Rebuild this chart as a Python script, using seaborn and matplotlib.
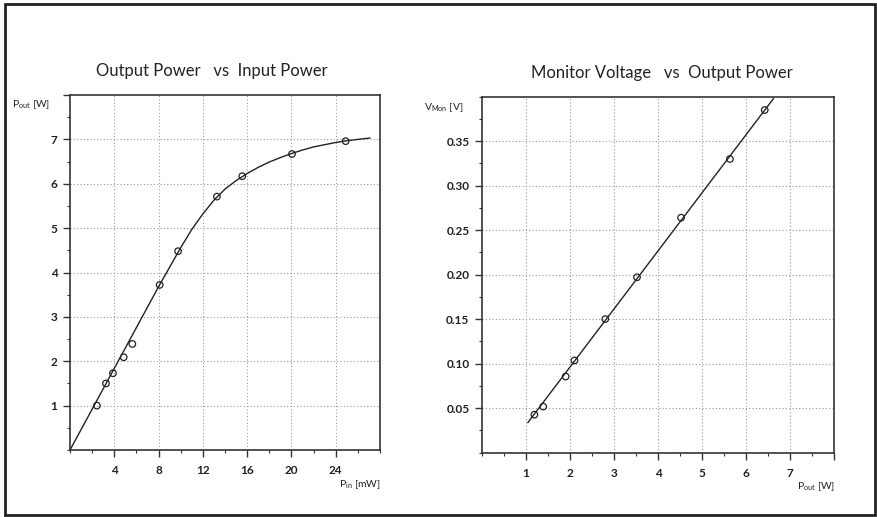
import matplotlib
matplotlib.use("Agg")
import matplotlib.pyplot as plt
import seaborn as sns
from matplotlib.patches import Rectangle
from matplotlib.ticker import MultipleLocator

# left chart: output power vs input power (measured points + drawn fit)
pin_pts = [2.43, 3.25, 3.88, 4.85, 5.63, 8.1, 9.76, 13.27, 15.56, 20.05, 24.9]
pout_pts = [1.00, 1.50, 1.73, 2.09, 2.39, 3.72, 4.48, 5.71, 6.17, 6.67, 6.96]
pin_fit = [0, 2, 4, 6, 8, 9, 10, 11, 12, 13, 14, 15, 16, 17, 18, 19, 20, 21, 22, 23, 24, 25, 26, 27.1]
pout_fit = [0, 0.92, 1.84, 2.76, 3.68, 4.12, 4.56, 4.97, 5.32, 5.63, 5.88, 6.07, 6.23, 6.37,
            6.49, 6.59, 6.68, 6.76, 6.83, 6.88, 6.93, 6.97, 7.00, 7.03]
pin_ticks = [4, 8, 12, 16, 20, 24]
pout_ticks = [1, 2, 3, 4, 5, 6, 7]

# right chart: monitor voltage vs output power
pw_pts = [1.19, 1.39, 1.90, 2.10, 2.80, 3.52, 4.52, 5.63, 6.42]
vmon_pts = [0.0425, 0.0516, 0.0854, 0.1035, 0.150, 0.197, 0.264, 0.330, 0.385]
pw_fit = [1.04, 6.62]
vmon_fit = [0.0335, 0.398]
pw_ticks = [1, 2, 3, 4, 5, 6, 7]
vmon_ticks = [0.05, 0.10, 0.15, 0.20, 0.25, 0.30, 0.35]

sns.set_theme(style="white")
plt.rcParams['font.family'] = ['Lato', 'DejaVu Sans']
plt.rcParams['mathtext.fontset'] = 'custom'
plt.rcParams['mathtext.rm'] = 'Lato'

W, H = 878, 517
fig = plt.figure(figsize=(W / 100, H / 100), dpi=100)
fig.patch.set_facecolor('white')
fig.patches.append(Rectangle((5 / W, 2 / H), 870 / W, 511 / H, transform=fig.transFigure,
                             fill=False, edgecolor='#222222', linewidth=2))

ax1 = fig.add_axes([70 / W, 1 - 450 / H, 310 / W, 355 / H])
ax2 = fig.add_axes([482 / W, 1 - 452.5 / H, 352.3 / W, 355.8 / H])

grid_kw = dict(color='#9a9a9a', linestyle=(0, (1, 2)), linewidth=0.8)
pt_kw = dict(marker='o', s=22, facecolor='none', edgecolor='#222222', linewidth=0.9, zorder=4)

sns.lineplot(x=pin_fit, y=pout_fit, ax=ax1, color='#222222', linewidth=1.0, sort=False)
sns.scatterplot(x=pin_pts, y=pout_pts, ax=ax1, **pt_kw)
ax1.set_xlim(0, 28)
ax1.set_ylim(0, 8)
ax1.set_xticks(pin_ticks)
ax1.set_yticks(pout_ticks + [8])
ax1.set_yticklabels([str(v) for v in pout_ticks] + [''])
ax1.xaxis.set_minor_locator(MultipleLocator(2))
ax1.yaxis.set_minor_locator(MultipleLocator(0.5))
for v in pin_ticks:
    ax1.axvline(v, **grid_kw, zorder=0)
for v in pout_ticks:
    ax1.axhline(v, **grid_kw, zorder=0)

sns.lineplot(x=pw_fit, y=vmon_fit, ax=ax2, color='#222222', linewidth=1.0, sort=False)
sns.scatterplot(x=pw_pts, y=vmon_pts, ax=ax2, **pt_kw)
ax2.set_xlim(0, 8)
ax2.set_ylim(0, 0.40)
ax2.set_xticks(pw_ticks + [8])
ax2.set_xticklabels([str(v) for v in pw_ticks] + [''])
ax2.set_yticks(vmon_ticks)
ax2.set_yticklabels([f"{v:.2f}" for v in vmon_ticks])
ax2.xaxis.set_minor_locator(MultipleLocator(0.5))
ax2.yaxis.set_minor_locator(MultipleLocator(0.025))
for v in pw_ticks:
    ax2.axvline(v, **grid_kw, zorder=0)
for v in vmon_ticks:
    ax2.axhline(v, **grid_kw, zorder=0)

for ax in (ax1, ax2):
    ax.set_facecolor('white')
    ax.grid(False)
    for sp in ax.spines.values():
        sp.set_color('#333333')
        sp.set_linewidth(1.2)
    ax.tick_params(which='major', direction='out', length=5, width=1, color='#333333',
                   labelsize=8.5, labelcolor='#222222', bottom=True, left=True, pad=4)
    ax.tick_params(which='minor', direction='out', length=2.5, width=0.8, color='#333333',
                   bottom=True, left=True)
    for lab in ax.get_xticklabels() + ax.get_yticklabels():
        lab.set_fontweight('bold')
    ax.set_xlabel('')
    ax.set_ylabel('')

ax1.tick_params(axis='x', pad=6)
ax2.tick_params(axis='x', pad=6)

fig.text(212 / W, 1 - 71 / H, "Output Power   vs  Input Power", ha='center', va='center',
         fontsize=12, color='#222222')
fig.text(662 / W, 1 - 73 / H, "Monitor Voltage   vs  Output Power", ha='center', va='center',
         fontsize=12, color='#222222')

lab_kw = dict(fontsize=7.5, color='#222222', va='center')
fig.text(12 / W, 1 - 105 / H, r"P$_{\rm out}$ [W]", ha='left', **lab_kw)
fig.text(381 / W, 1 - 485 / H, r"P$_{\rm in}$ [mW]", ha='right', **lab_kw)
fig.text(424 / W, 1 - 108 / H, r"V$_{\rm Mon}$ [V]", ha='left', **lab_kw)
fig.text(835 / W, 1 - 487 / H, r"P$_{\rm out}$ [W]", ha='right', **lab_kw)

fig.savefig("out.png", dpi=100, facecolor='white')
